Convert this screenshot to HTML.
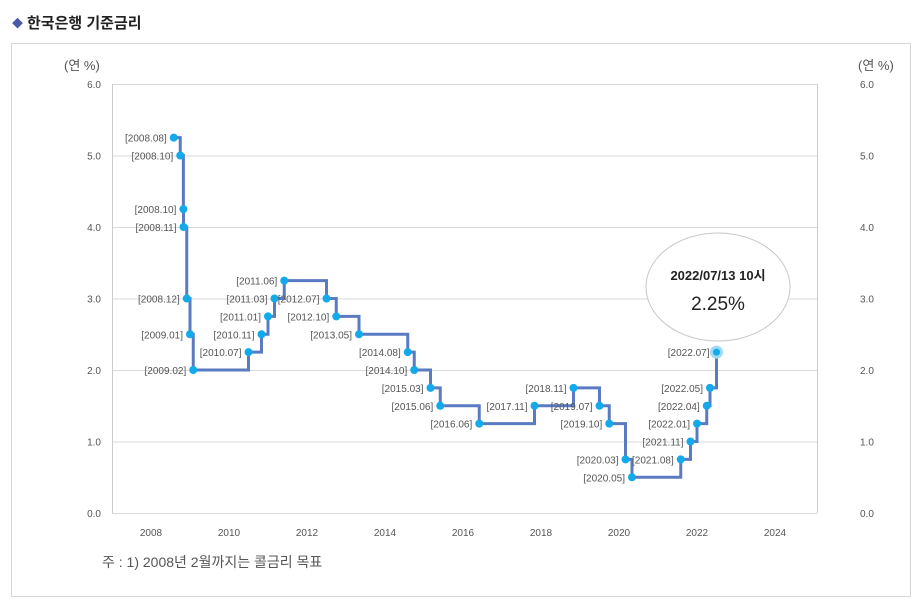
<!DOCTYPE html>
<html><head><meta charset="utf-8"><style>
body{margin:0;background:#fff;font-family:"Liberation Sans","Noto Sans CJK KR",sans-serif;}
#wrap{position:relative;width:923px;height:606px;overflow:hidden}
</style></head><body>
<div id="wrap">
<svg id="chart" width="923" height="606" xmlns="http://www.w3.org/2000/svg">
<text x="12" y="27" font-size="11" fill="#4a5aa8">◆</text>
<text x="27" y="28" font-size="15" font-weight="bold" fill="#222" font-family="Liberation Sans, Noto Sans CJK KR, sans-serif">한국은행 기준금리</text>
<rect x="11.5" y="43.5" width="899" height="553" fill="none" stroke="#d6d6d6"/>
<text x="64" y="70" font-size="13" fill="#555" font-family="Liberation Sans, Noto Sans CJK KR, sans-serif">(연 %)</text>
<text x="858" y="70" font-size="13" fill="#555" font-family="Liberation Sans, Noto Sans CJK KR, sans-serif">(연 %)</text>
<g id="grid"></g><g id="series"></g><g id="labels"></g>
<g>
<ellipse cx="718" cy="287" rx="72" ry="54" fill="#fff" stroke="#c8c8c8"/>
<text x="718" y="280" font-size="13" font-weight="bold" fill="#222" text-anchor="middle" font-family="Liberation Sans, Noto Sans CJK KR, sans-serif">2022/07/13 10시</text>
<text x="718" y="310" font-size="19" fill="#222" text-anchor="middle">2.25%</text>
</g>
<text x="102" y="567" font-size="14" fill="#555" font-family="Liberation Sans, Noto Sans CJK KR, sans-serif">주 : 1) 2008년 2월까지는 콜금리 목표</text>
</svg>
</div>
<script>
const dates=["2008.08","2008.10","2008.10","2008.11","2008.12","2009.01","2009.02","2010.07","2010.11","2011.01","2011.03","2011.06","2012.07","2012.10","2013.05","2014.08","2014.10","2015.03","2015.06","2016.06","2017.11","2018.11","2019.07","2019.10","2020.03","2020.05","2021.08","2021.11","2022.01","2022.04","2022.05","2022.07"];
const rates=[5.25,5.00,4.25,4.00,3.00,2.50,2.00,2.25,2.50,2.75,3.00,3.25,3.00,2.75,2.50,2.25,2.00,1.75,1.50,1.25,1.50,1.75,1.50,1.25,0.75,0.50,0.75,1.00,1.25,1.50,1.75,2.25];
const xOff=[0,0,0.08,0,0,0,0,0,0,0,0,0,0,0,0,0,0,0,0,0,0,0,0,0,0,0,0,0,0,0,0,0];
const yTicks=["0.0","1.0","2.0","3.0","4.0","5.0","6.0"];
const xTicks=["2008","2010","2012","2014","2016","2018","2020","2022","2024"];
const NS="http://www.w3.org/2000/svg";
const X0=112,X1=817,Y0=513,Y1=84;
function xs(t){return 151+(t-2008)*39;}
function ys(v){return Y0-(v/6)*(Y0-Y1);}
function dt(s){const[y,m]=s.split(".");return +y+(+m-1)/12;}
function mk(tag,at,parent){const e=document.createElementNS(NS,tag);for(const k in at)e.setAttribute(k,at[k]);parent.appendChild(e);return e;}
const grid=document.getElementById("grid"),ser=document.getElementById("series"),lab=document.getElementById("labels");
yTicks.forEach(t=>{const y=ys(+t);
const l=mk("line",{x1:X0,x2:X1,y1:y+0.5,y2:y+0.5,stroke:"#d9d9d9"},grid);


const a=mk("text",{x:101,y:y+4,"font-size":10,fill:"#555","text-anchor":"end"},grid);a.textContent=t;


const b=mk("text",{x:860,y:y+4,"font-size":10,fill:"#555"},grid);b.textContent=t;

});
mk("line",{x1:X0+0.5,x2:X0+0.5,y1:Y1,y2:Y0,stroke:"#ccc"},grid);
mk("line",{x1:X1+0.5,x2:X1+0.5,y1:Y1,y2:Y0,stroke:"#ccc"},grid);
xTicks.forEach(t=>{const x=xs(+t);
const a=mk("text",{x:x,y:536,"font-size":10,fill:"#555","text-anchor":"middle"},grid);a.textContent=t;

});
const px=dates.map((d,i)=>xs(dt(d)+xOff[i])),py=rates.map(r=>ys(r));
let d="M"+px[0]+" "+py[0];
for(let i=1;i<px.length;i++){d+=" H"+px[i]+" V"+py[i];}
const path=mk("path",{d:d,fill:"none",stroke:"#5a7bc2","stroke-width":3},ser);


px.forEach((x,i)=>{const last=i===px.length-1;
const c=mk("circle",{cx:x,cy:py[i],r:last?5:4,fill:"#12aaeb",stroke:last?"#9fd9f5":"none","stroke-width":last?3:0},ser);


const t=mk("text",{x:x-7,y:py[i]+4,"font-size":10,fill:"#555","text-anchor":"end"},lab);t.textContent="["+dates[i]+"]";

});
</script>
</body></html>
